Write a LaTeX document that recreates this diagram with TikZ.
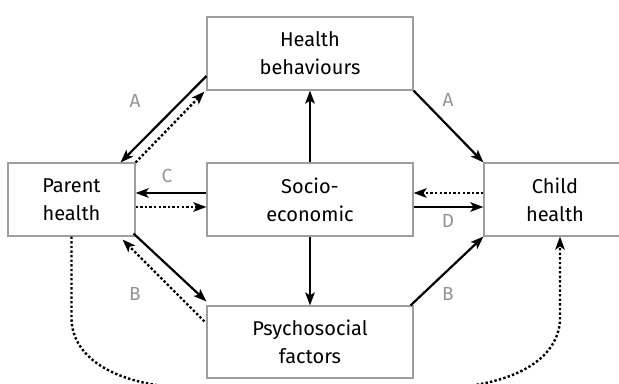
\documentclass[tikz,border=0pt]{standalone}
\usepackage{fontspec}
\setmainfont{Fira Sans}
\usetikzlibrary{arrows.meta,calc}
\begin{document}
\begin{tikzpicture}[x=1bp,y=1bp,
  box/.style={draw=black!38,line width=1.1bp,fill=white,align=center,inner sep=0pt,
    minimum height=73bp,font=\fontsize{20bp}{28bp}\selectfont},
  arr/.style={line width=2.2bp,-{Stealth[length=13bp,width=9.5bp,inset=3bp]}},
  dotarr/.style={line width=2.4bp,dash pattern=on 2.4bp off 2.2bp,-{Stealth[length=13bp,width=9.5bp,inset=3bp]}},
  lbl/.style={text=black!42,font=\fontsize{19bp}{19bp}\selectfont,inner sep=0pt}]
\useasboundingbox (0,0) rectangle (619,-383);
\clip (0,0) rectangle (619,-383);
\node[box,minimum width=206bp] (hb) at (310,-53.5) {Health\\behaviours};
\node[box,minimum width=127bp] (ph) at (71.5,-199.5) {Parent\\health};
\node[box,minimum width=206bp] (se) at (310,-199.5) {Socio-\\economic};
\node[box,minimum width=142bp] (ch) at (555,-199.5) {Child\\health};
\node[box,minimum width=206bp,minimum height=72bp] (ps) at (310,-342) {Psychosocial\\factors};
% curved dotted path
\coordinate (lv) at (71.5,-318);
\coordinate (rv) at (560,-318);
\draw[dotarr] (ph.south) -- (lv) .. controls (71.5,-352) and (105,-389) .. (210,-389)
  -- (421,-389) .. controls (526,-389) and (560,-352) .. (rv) -- (rv |- ch.south);
% HB <-> PH
\draw[arr] ([yshift=-22.5bp]hb.west) -- ([xshift=-15bp]ph.north east);
\draw[dotarr] (ph.north east) -- ([xshift=-2bp,yshift=-1bp]hb.south west);
% HB -> CH
\draw[arr] (hb.south east) -- (ch.north west);
% SE -> HB
\draw[arr] (se.north) -- (hb.south);
% SE <-> PH
\draw[arr] ([yshift=6.5bp]se.west) -- ([yshift=6.5bp]ph.east);
\draw[dotarr] ([yshift=-7.5bp]ph.east) -- ([yshift=-7.5bp]se.west);
% SE <-> CH
\draw[dotarr] ([yshift=6.5bp]ch.west) -- ([yshift=6.5bp]se.east);
\draw[arr] ([yshift=-7.5bp]se.east) -- ([yshift=-7.5bp]ch.west);
% SE -> PS
\draw[arr] (se.south) -- (ps.north);
% PH <-> PS
\draw[arr] ([xshift=-2bp,yshift=3bp]ph.south east) -- ([yshift=4bp]ps.north west);
\draw[dotarr] ([xshift=-2bp,yshift=-16bp]ps.north west) -- ([xshift=-13bp,yshift=-3bp]ph.south east);
% PS -> CH
\draw[arr] ([xshift=-3bp]ps.north east) -- (ch.south west);
% labels
\node[lbl] (la1) at (135,-101) {A};
\node[lbl] (la2) at (448,-100) {A};
\node[lbl] (lc) at (167,-176) {C};
\node[lbl] (ld) at (448,-221) {D};
\node[lbl] (lb1) at (135,-294) {B};
\node[lbl] (lb2) at (448,-294) {B};
\end{tikzpicture}
\end{document}
